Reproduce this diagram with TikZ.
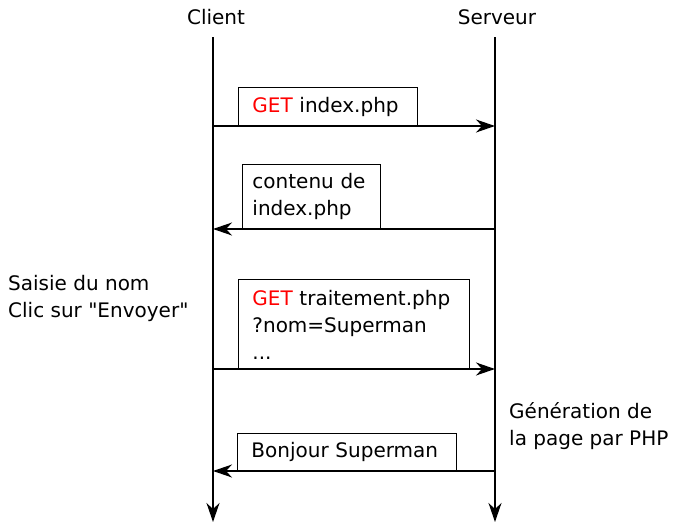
\documentclass[tikz,border=0pt]{standalone}
\usepackage{fontspec}
\setmainfont{DejaVu Sans}[Ligatures=TeXOff]
\usetikzlibrary{arrows.meta}
\begin{document}
\begin{tikzpicture}[x=1pt,y=-1pt,
  font=\fontsize{20}{27}\selectfont,
  life/.style={line width=1.3pt,-{Stealth[length=19pt,width=13pt,inset=6pt]}},
  msg/.style={line width=1.3pt,-{Stealth[length=19pt,width=13pt,inset=6pt]}},
  msgbox/.style={draw,line width=0.9pt,anchor=north west,align=left,inner ysep=0pt,fill=white},
  note/.style={anchor=west,align=left,inner sep=0pt}]
\useasboundingbox (0,0) rectangle (673,522);
\node (client) at (216,17) {Client};
\node (serveur) at (497,17) {Serveur};
\coordinate (ctop) at (213,37);
\coordinate (cbot) at (213,522);
\coordinate (stop) at (495,37);
\coordinate (sbot) at (495,522);
\draw[life] (ctop) -- (cbot);
\draw[life] (stop) -- (sbot);
% message 1
\node[msgbox,inner xsep=14pt,text width=151pt,minimum height=39pt] (b1) at (238,87) {\textcolor{red}{GET} index.php};
\coordinate (c1) at (213,126);
\coordinate (s1) at (495,126);
\draw[msg] (c1) -- (s1);
% message 2
\node[msgbox,inner xsep=10pt,text width=118pt,minimum height=65pt] (b2) at (242,164) {contenu de\\index.php};
\coordinate (c2) at (213,229);
\coordinate (s2) at (495,229);
\draw[msg] (s2) -- (c2);
% message 3
\node[msgbox,inner xsep=14pt,text width=203pt,minimum height=90pt] (b3) at (238,279) {\textcolor{red}{GET} traitement.php\\?nom=Superman\\...};
\coordinate (c3) at (213,369);
\coordinate (s3) at (495,369);
\draw[msg] (c3) -- (s3);
% message 4
\node[msgbox,inner xsep=14pt,text width=191pt,minimum height=37pt] (b4) at (237,433) {Bonjour Superman};
\coordinate (c4) at (213,471);
\coordinate (s4) at (495,471);
\draw[msg] (s4) -- (c4);
% notes
\node[note] (saisie) at (8,298) {Saisie du nom\\Clic sur "Envoyer"};
\node[note] (gen) at (509,426) {Génération de\\la page par PHP};
\end{tikzpicture}
\end{document}
